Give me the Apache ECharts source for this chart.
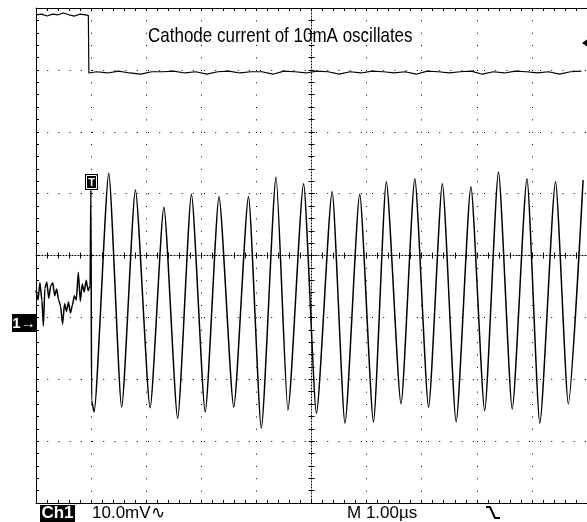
<!DOCTYPE html>
<html><head><meta charset="utf-8">
<script src="https://cdn.jsdelivr.net/npm/echarts@6/dist/echarts.min.js"></script>
<style>html,body{margin:0;padding:0;background:#fff}#c{width:587px;height:522px}</style>
</head><body><div id="c"></div>
<script>
// Channel 1: 10.0 mV/div ; time base 1.00 µs/div, time relative to screen centre
const ch1Time = [-5.000,-4.964,-4.929,-4.893,-4.866,-4.839,-4.804,-4.768,-4.732,-4.696,
  -4.661,-4.625,-4.589,-4.554,-4.518,-4.482,-4.446,-4.411,-4.375,-4.339,
  -4.304,-4.268,-4.232,-4.196,-4.161,-4.125,-4.089,-4.054,-4.018,-4.004,
  -3.991,-3.946,
  -3.679,-3.446,-3.196,-2.929,-2.679,-2.429,-2.179,-1.929,-1.679,-1.411,
  -1.143,-0.911,-0.643,-0.429,-0.143,0.089,0.375,0.607,0.875,1.125,
  1.357,1.625,1.875,2.125,2.375,2.625,2.893,3.143,3.393,3.643,
  3.911,4.143,4.429,4.661,4.929];
const ch1MilliVolt = [-5.6,-7.2,-4.4,-7.2,-11.4,-5.3,-4.3,-6.9,-4.9,-4.4,
  -6.5,-5.4,-7.2,-8.2,-11.1,-7.8,-9.0,-7.5,-9.3,-8.0,
  -6.5,-7.2,-2.7,-7.4,-4.6,-5.9,-4.0,-5.7,-4.9,10.6,
  -23.4,-25.3,
  13.3,-24.5,10.6,-24.6,7.8,-26.3,9.9,-25.3,9.5,-24.5,
  9.5,-27.9,12.7,-25.0,11.6,-25.5,10.3,-27.1,9.9,-26.9,
  11.9,-24.0,12.4,-24.5,11.6,-26.9,11.1,-25.1,13.5,-24.8,
  12.4,-27.1,11.9,-24.0,12.2];
// Cathode current trace (in screen divisions)
const ch2Time = [-5.0,-4.9,-4.8,-4.7,-4.6,-4.5,-4.4,-4.3,-4.2,-4.1,-4.05,-4.04,
  -3.9,-3.7,-3.5,-3.3,-3.1,-2.9,-2.7,-2.5,-2.3,-2.1,
  -1.9,-1.7,-1.5,-1.3,-1.1,-0.9,-0.7,-0.5,-0.3,-0.1,
  0.1,0.3,0.5,0.7,0.9,1.1,1.3,1.5,1.7,1.9,
  2.1,2.3,2.5,2.7,2.9,3.1,3.3,3.5,3.7,3.9,
  4.1,4.3,4.5,4.7,4.9];
const ch2Div = [3.89,3.90,3.87,3.90,3.89,3.92,3.89,3.87,3.90,3.89,3.88,2.95,
  2.97,2.95,2.98,2.95,2.93,2.97,2.97,2.98,2.95,2.97,
  2.93,2.97,2.98,2.95,2.97,2.97,2.93,2.98,2.97,2.95,
  2.98,2.97,2.93,2.97,2.95,2.98,2.97,2.95,2.97,2.93,
  2.98,2.97,2.95,2.97,2.98,2.93,2.97,2.95,2.98,2.97,
  2.95,2.97,2.93,2.97,2.98];
const titleText = 'Cathode current of 10mA oscillates';
const chLabel = 'Ch1';
const voltLabel = '10.0mV\u223F';
const timeLabel = 'M 1.00\u00B5s';
const triggerLabel = 'T';
const refLabel = '1\u2192';

const pairs = (xs, ys) => xs.map((x, i) => [x, ys[i]]);
const K = '#000';
const border = {color: K, width: 1};
const FONT = '"Liberation Sans", Arial, sans-serif';

function borderAxis(pos, min, max, interval, split, dash) {
  return {
    type: 'value', min, max, interval, position: pos,
    axisLine: {show: true, onZero: false, lineStyle: border},
    axisTick: {show: true, inside: true, length: 3, lineStyle: border},
    minorTick: {show: true, splitNumber: 5, length: 3, lineStyle: border},
    axisLabel: {show: false},
    splitLine: {show: split, lineStyle: {color: K, width: 1, type: dash}},
    minorSplitLine: {show: false}
  };
}
function centreAxis(pos, min, max, interval, showLine) {
  return {
    type: 'value', min, max, interval, position: pos,
    axisLine: {show: showLine, onZero: true, onZeroAxisIndex: 0, lineStyle: {color: K, width: 1, type: [1, 2]}},
    axisTick: {show: true, inside: true, length: 3, lineStyle: border},
    minorTick: {show: true, splitNumber: 5, length: 3, lineStyle: border},
    axisLabel: {show: false},
    splitLine: {show: false}
  };
}

const chart = echarts.init(document.getElementById('c'), null, {renderer: 'canvas'});
chart.setOption({
  backgroundColor: '#fff',
  animation: false,
  grid: {left: 36, top: 8, width: 560, height: 495, containLabel: false},
  xAxis: [
    borderAxis('bottom', -5, 5, 1, true, [1, 11.375]),
    borderAxis('top', -5, 5, 1, false, 'solid'),
    centreAxis('bottom', -5, 5, 1, true),
    centreAxis('top', -5, 5, 1, false)
  ],
  yAxis: [
    borderAxis('left', -40, 40, 10, true, [1, 10.2]),
    Object.assign(borderAxis('right', -4, 4, 1, false, 'solid'), {show: false}),
    centreAxis('left', -40, 40, 10, true),
    centreAxis('right', -40, 40, 10, false)
  ],
  series: [
    {
      type: 'line', name: 'Ch1', xAxisIndex: 0, yAxisIndex: 0,
      data: pairs(ch1Time, ch1MilliVolt),
      showSymbol: false, smooth: 0.2, smoothMonotone: 'x',
      lineStyle: {color: K, width: 1.5}, z: 5
    },
    {
      type: 'line', name: 'Cathode current', xAxisIndex: 0, yAxisIndex: 1,
      data: pairs(ch2Time, ch2Div),
      showSymbol: false,
      lineStyle: {color: K, width: 1.2}, z: 5
    }
  ],
  graphic: [
    {type: 'text', x: 148, y: 37, scaleY: 1.15, style: {text: titleText, font: '17px ' + FONT, fill: K, verticalAlign: 'middle'}},
    {type: 'rect', shape: {x: 85, y: 174, width: 13, height: 16}, style: {fill: K}, z: 10},
    {type: 'rect', shape: {x: 86.5, y: 175.5, width: 10, height: 13}, style: {fill: K, stroke: '#fff', lineWidth: 1}, z: 11},
    {type: 'text', x: 91.5, y: 182.5, style: {text: triggerLabel, font: 'bold 11px ' + FONT, fill: '#fff', align: 'center', verticalAlign: 'middle'}, z: 12},
    {type: 'rect', shape: {x: 12, y: 314, width: 24, height: 18}, style: {fill: K}, z: 10},
    {type: 'text', x: 24, y: 323.5, style: {text: refLabel, font: 'bold 15px ' + FONT, fill: '#fff', align: 'center', verticalAlign: 'middle'}, z: 12},
    {type: 'rect', shape: {x: 40, y: 505, width: 35, height: 17}, style: {fill: K}, z: 10},
    {type: 'text', x: 57.5, y: 513.5, style: {text: chLabel, font: 'bold 17px ' + FONT, fill: '#fff', align: 'center', verticalAlign: 'middle'}, z: 12},
    {type: 'text', x: 92, y: 513, style: {text: voltLabel, font: '17px ' + FONT, fill: K, verticalAlign: 'middle'}},
    {type: 'text', x: 347, y: 513, style: {text: timeLabel, font: '17px ' + FONT, fill: K, verticalAlign: 'middle'}},
    {type: 'polyline', shape: {points: [[486, 507], [490, 507], [495, 518], [500, 518]]}, style: {stroke: K, lineWidth: 2, fill: null}},
    {type: 'polygon', shape: {points: [[582, 43], [587, 39.5], [587, 46.5]]}, style: {fill: K}}
  ]
});
</script></body></html>
